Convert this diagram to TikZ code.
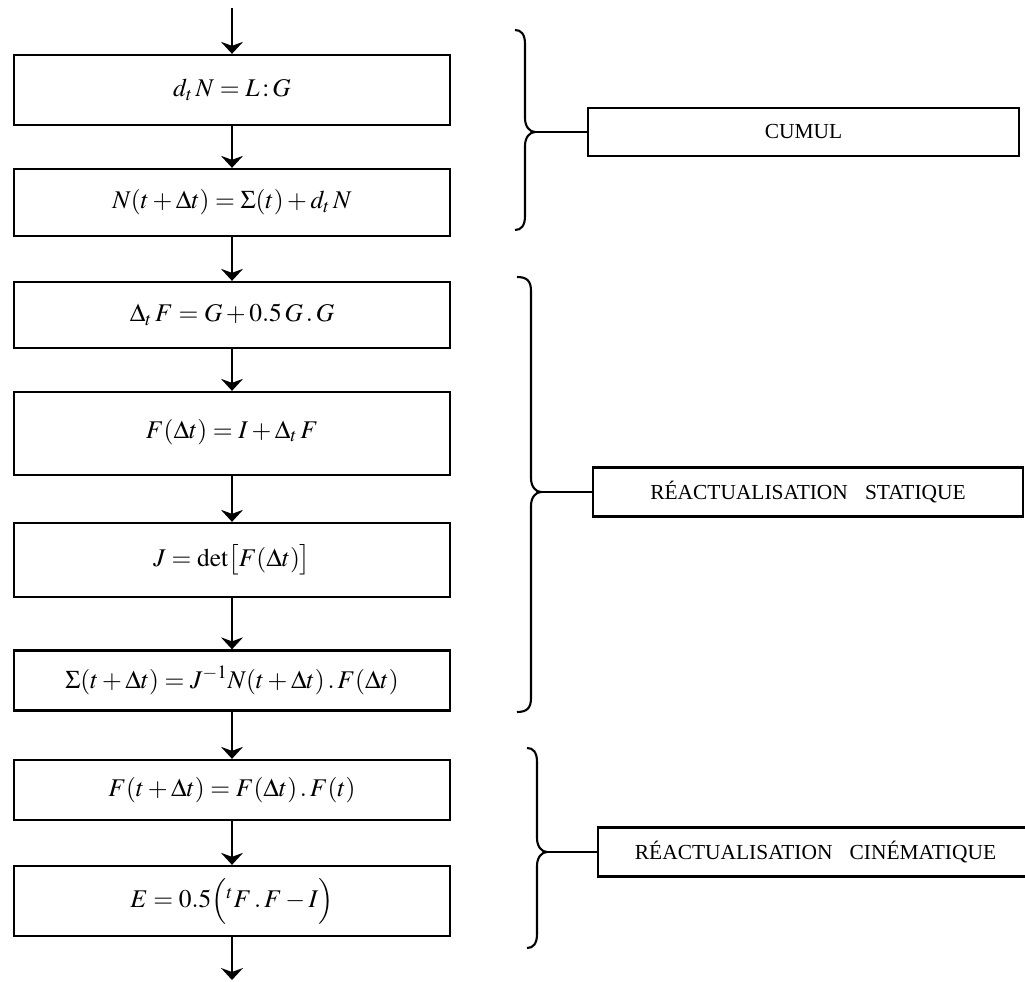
\documentclass[tikz,border=0pt]{standalone}
\usepackage{mathptmx}
\usepackage{fontspec}
\setmainfont{Liberation Serif}
\usetikzlibrary{arrows.meta}
\newcommand\rightbrace[7]{% name, xend, xvert, xtip, ytop, ytip, ybot
  \draw[bracestyle] (#2,#5) .. controls (#3-4,#5) and (#3,#5+4) .. (#3,#5+14)
    -- (#3,#6-14) .. controls (#3,#6-5) and (#4-5,#6) .. (#4,#6)
    coordinate (#1)
    .. controls (#4-5,#6) and (#3,#6+5) .. (#3,#6+14)
    -- (#3,#7-14) .. controls (#3,#7-4) and (#3-4,#7) .. (#2,#7);}
\begin{document}
\begin{tikzpicture}[x=0.02cm,y=-0.02cm,
  eqbox/.style={draw, line width=1.3pt, minimum width=8.72cm, inner sep=0pt,
    font=\fontsize{14.5}{17}\selectfont},
  tagbox/.style={draw, line width=1.2pt, inner sep=0pt, anchor=west,
    font=\fontsize{12.2}{14}\selectfont},
  flow/.style={-{Stealth[length=0.24cm,width=0.44cm,inset=0.08cm]}, line width=0.9pt},
  bracestyle/.style={line width=1.2pt},
  link/.style={line width=1.1pt}]
\useasboundingbox (0,0) rectangle (1025,982);

% left column
\node[eqbox, minimum height=1.40cm] (b1) at (232,90)    {$d_t\,N = L\,{:}\,G$};
\node[eqbox, minimum height=1.34cm] (b2) at (232,202.5) {$N(t+\Delta t) = \Sigma(t) + d_t\,N$};
\node[eqbox, minimum height=1.32cm] (b3) at (232,315)   {$\Delta_t\,F = G + 0.5\,G\,.\,G$};
\node[eqbox, minimum height=1.66cm] (b4) at (232,433.5) {\raisebox{0.2cm}{$F(\Delta t) = I + \Delta_t\,F$}};
\node[eqbox, minimum height=1.48cm] (b5) at (232,560)   {$J = \det\bigl[F(\Delta t)\bigr]$};
\node[eqbox, minimum height=1.20cm] (b6) at (232,680.5) {$\Sigma(t+\Delta t) = J^{-1} N(t+\Delta t)\,.\,F(\Delta t)$};
\node[eqbox, minimum height=1.20cm] (b7) at (232,790)   {$F(t+\Delta t) = F(\Delta t)\,.\,F(t)$};
\node[eqbox, minimum height=1.40cm] (b8) at (232,901)   {$E = 0.5\Bigl({}^t F\,.\,F - I\Bigr)$};

\coordinate (start) at (232,8);
\coordinate (stop) at (232,980);
\draw[flow] (start) -- (b1.north);
\draw[flow] (b1.south) -- (b2.north);
\draw[flow] (b2.south) -- (b3.north);
\draw[flow] (b3.south) -- (b4.north);
\draw[flow] (b4.south) -- (b5.north);
\draw[flow] (b5.south) -- (b6.north);
\draw[flow] (b6.south) -- (b7.north);
\draw[flow] (b7.south) -- (b8.north);
\draw[flow] (b8.south) -- (stop);

% braces
\rightbrace{t1}{515}{525}{535}{30}{132}{230}
\rightbrace{t2}{517}{531}{541}{277}{492}{712}
\rightbrace{t3}{527}{537}{547}{748}{852}{948}

% right boxes
\node[tagbox, minimum width=8.62cm, minimum height=0.96cm] (r1) at (587,132) {CUMUL};
\node[tagbox, minimum width=8.60cm, minimum height=0.98cm] (r2) at (592,492) {RÉACTUALISATION\hspace{0.8em}STATIQUE};
\node[tagbox, minimum width=8.70cm, minimum height=0.98cm] (r3) at (597,852) {RÉACTUALISATION\hspace{0.8em}CINÉMATIQUE};

\draw[link] (t1) -- (r1.west);
\draw[link] (t2) -- (r2.west);
\draw[link] (t3) -- (r3.west);
\end{tikzpicture}
\end{document}
